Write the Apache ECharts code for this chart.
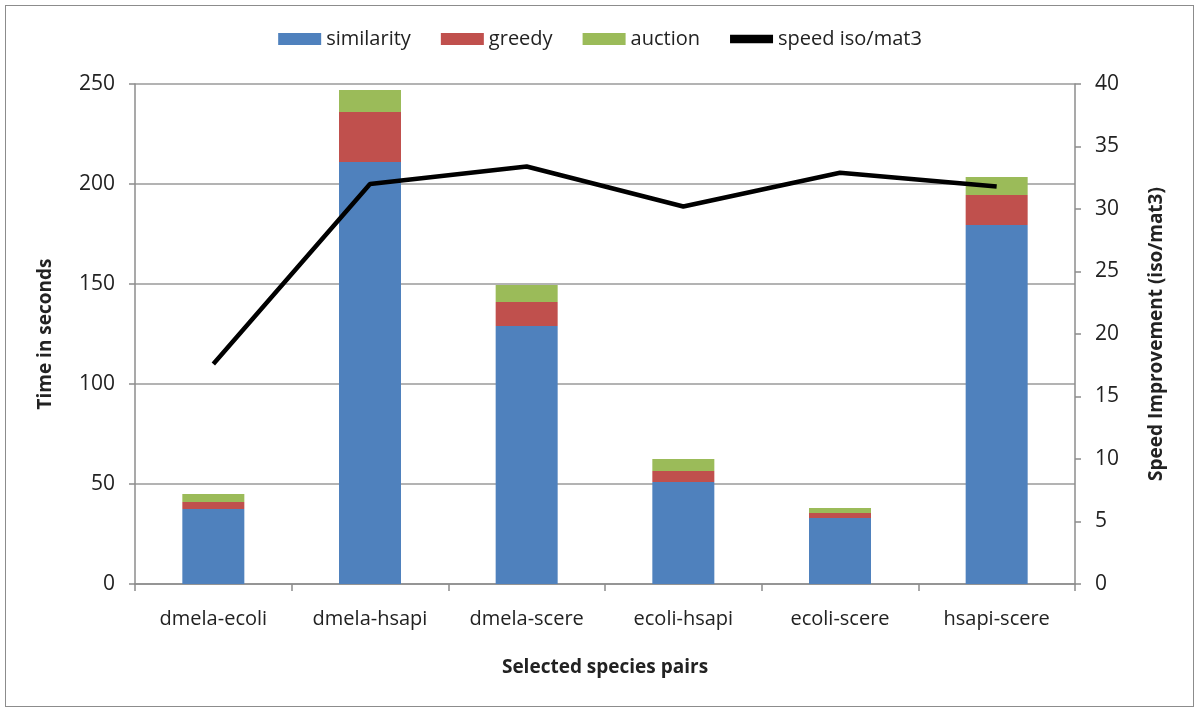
<!DOCTYPE html>
<html><head><meta charset="utf-8">
<script src="https://cdn.jsdelivr.net/npm/echarts@6/dist/echarts.min.js"></script>
<style>html,body{margin:0;padding:0;background:#fff}#c{width:1200px;height:712px}
#frame{position:absolute;left:5px;top:5px;width:1187px;height:700px;border:1px solid #8c8c8c;pointer-events:none}</style>
</head><body><div id="c"></div><div id="frame"></div>
<script>
const categories = ['dmela-ecoli','dmela-hsapi','dmela-scere','ecoli-hsapi','ecoli-scere','hsapi-scere'];
const similarity = [37.5, 211, 129, 51, 33, 179.5];
const greedy = [3.5, 25, 12, 5.5, 2.5, 15];
const auction = [4, 11, 8.5, 6, 2.5, 9];
const speed = [17.6, 32, 33.4, 30.2, 32.9, 31.8];
const leftTicks = [0, 250, 50];
const rightTicks = [0, 40, 5];

const font = 'Open Sans';
const chart = echarts.init(document.getElementById('c'));
const axisGray = '#8c8c8c';
chart.setOption({
  animation: false,
  textStyle: {fontFamily: font},
  legend: {
    top: 24, left: 'center', itemWidth: 43, itemHeight: 12, itemGap: 30,
    textStyle: {fontSize: 20, color: '#222', fontFamily: font},
    data: [
      {name: 'similarity', icon: 'rect'},
      {name: 'greedy', icon: 'rect'},
      {name: 'auction', icon: 'rect'},
      {name: 'speed iso/mat3', icon: 'path://M0,0 L10,0 L10,2 L0,2 Z'}
    ]
  },
  grid: {left: 135, right: 125, top: 84, bottom: 128},
  xAxis: {
    type: 'category', data: categories,
    axisLine: {lineStyle: {color: axisGray, width: 1.5}},
    axisTick: {show: true, length: 7, lineStyle: {color: axisGray, width: 1.5}},
    axisLabel: {fontSize: 20, color: '#222', margin: 25, interval: 0},
    name: 'Selected species pairs', nameLocation: 'middle', nameGap: 74,
    nameTextStyle: {fontSize: 19, fontWeight: 'bold', color: '#222'}
  },
  yAxis: [
    {
      type: 'value', min: leftTicks[0], max: leftTicks[1], interval: leftTicks[2],
      axisLine: {show: true, lineStyle: {color: axisGray, width: 1.5}},
      axisTick: {show: true, length: 6, lineStyle: {color: axisGray, width: 1.5}},
      splitLine: {lineStyle: {color: '#9a9a9a', width: 1.5}},
      axisLabel: {fontSize: 21, color: '#222', margin: 20},
      name: 'Time in seconds', nameLocation: 'middle', nameGap: 80, nameRotate: 90,
      nameTextStyle: {fontSize: 19, fontWeight: 'bold', color: '#222'}
    },
    {
      type: 'value', min: rightTicks[0], max: rightTicks[1], interval: rightTicks[2],
      position: 'right',
      axisLine: {show: true, lineStyle: {color: axisGray, width: 1.5}},
      axisTick: {show: true, length: 6, lineStyle: {color: axisGray, width: 1.5}},
      splitLine: {show: false},
      axisLabel: {fontSize: 21, color: '#222', margin: 20},
      name: 'Speed Improvement (iso/mat3)', nameLocation: 'middle', nameGap: 72, nameRotate: 90,
      nameTextStyle: {fontSize: 19, fontWeight: 'bold', color: '#222'}
    }
  ],
  series: [
    {name: 'similarity', type: 'bar', stack: 't', barWidth: 62, data: similarity, itemStyle: {color: '#4f81bd'}},
    {name: 'greedy', type: 'bar', stack: 't', data: greedy, itemStyle: {color: '#c0504d'}},
    {name: 'auction', type: 'bar', stack: 't', data: auction, itemStyle: {color: '#9bbb59'}},
    {name: 'speed iso/mat3', type: 'line', yAxisIndex: 1, data: speed, symbol: 'none',
     lineStyle: {color: '#000', width: 4.5}, itemStyle: {color: '#000'}}
  ]
});
</script></body></html>
